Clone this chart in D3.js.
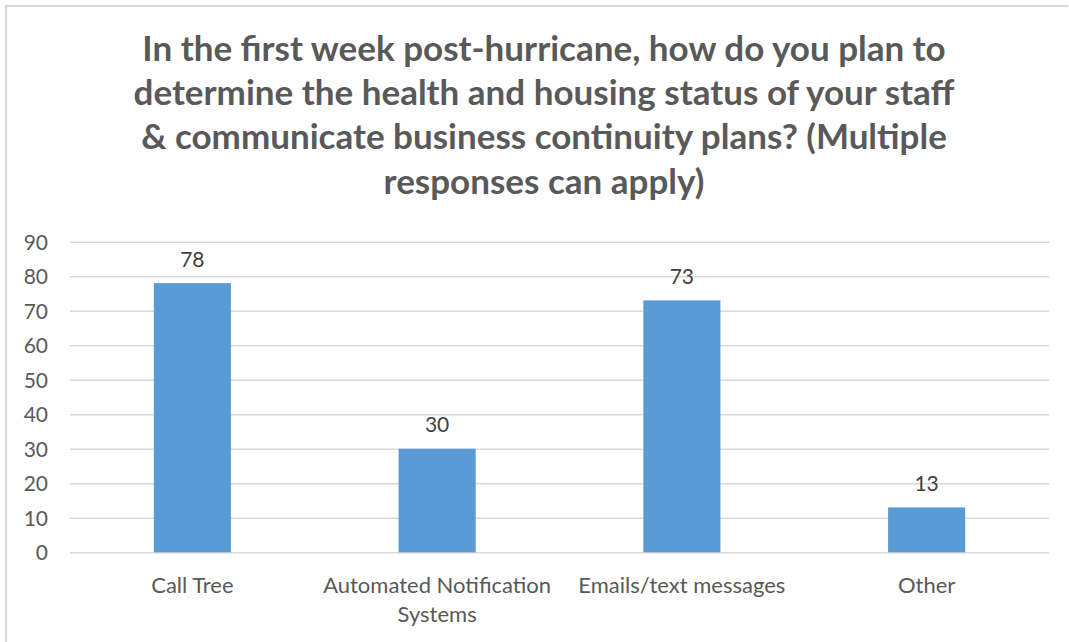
<!DOCTYPE html>
<html>
<head>
<meta charset="utf-8">
<script src="https://cdn.jsdelivr.net/npm/d3@7"></script>
<style>
  html, body { margin: 0; padding: 0; background: #fff; }
  svg { display: block; }
  text { font-family: Lato, "Open Sans", sans-serif; }
</style>
</head>
<body>
<svg id="chart" width="1069" height="642"></svg>
<script>
// Survey responses (multiple answers allowed)
const categories = [["Call Tree"], ["Automated Notification", "Systems"], ["Emails/text messages"], ["Other"]];
const values = [78, 30, 73, 13];
const yTicks = [0, 10, 20, 30, 40, 50, 60, 70, 80, 90];
const titleLines = [
  "In the first week post-hurricane, how do you plan to",
  "determine the health and housing status of your staff",
  "& communicate business continuity plans? (Multiple",
  "responses can apply)"
];

const W = 1069, H = 642;
const plot = { left: 70, right: 1049, top: 241.7, bottom: 552.3 };

const svg = d3.select("#chart");

// chart frame
svg.append("path")
  .attr("d", `M6,${H} L6,6 L1068,6`)
  .attr("fill", "none")
  .attr("stroke", "#d9d9d9")
  .attr("stroke-width", 2);

// title
const title = svg.append("g").attr("class", "title");
const titleY = [47, 91, 135, 180];
const tLines = title.selectAll("text").data(titleLines).join("text")
  .attr("x", 544)
  .attr("y", (d, i) => titleY[i])
  .attr("text-anchor", "middle")
  .attr("dominant-baseline", "central")
  .attr("font-weight", "bold")
  .attr("font-size", 30)
  .attr("fill", "#595959")
  .text(d => d);
// size the title so its widest line spans about 821px
const widest = d3.max(tLines.nodes(), n => n.getComputedTextLength());
tLines.attr("font-size", 30 * 821 / widest);

const x = d3.scaleBand()
  .domain(categories.map((d, i) => i))
  .range([plot.left, plot.right])
  .paddingInner(0.685)
  .paddingOuter(0.685 / 2);

const y = d3.scaleLinear()
  .domain([0, 90])
  .range([plot.bottom, plot.top]);

// gridlines + y labels
const yAxis = d3.axisLeft(y)
  .tickValues(yTicks)
  .tickSize(-(plot.right - plot.left))
  .tickPadding(22);
const yg = svg.append("g")
  .attr("transform", `translate(${plot.left},0)`)
  .call(yAxis);
yg.select(".domain").remove();
yg.selectAll(".tick line").attr("stroke", "#d9d9d9").attr("stroke-width", 1.5);
yg.selectAll(".tick text")
  .attr("font-family", "Lato, 'Open Sans', sans-serif")
  .attr("font-size", 21)
  .attr("fill", "#595959")
  .attr("dy", "0.35em");

// bars
svg.append("g").selectAll("rect").data(values).join("rect")
  .attr("x", (d, i) => x(i))
  .attr("width", x.bandwidth())
  .attr("y", d => y(d))
  .attr("height", d => y(0) - y(d))
  .attr("fill", "#5b9bd5");

// value labels
svg.append("g").selectAll("text").data(values).join("text")
  .attr("x", (d, i) => x(i) + x.bandwidth() / 2)
  .attr("y", d => y(d) - 25)
  .attr("text-anchor", "middle")
  .attr("dominant-baseline", "central")
  .attr("font-size", 21)
  .attr("fill", "#404040")
  .text(d => d);

// category labels
const cat = svg.append("g").selectAll("text").data(categories).join("text")
  .attr("x", (d, i) => x(i) + x.bandwidth() / 2)
  .attr("y", 584)
  .attr("text-anchor", "middle")
  .attr("dominant-baseline", "central")
  .attr("font-size", 22)
  .attr("fill", "#595959");
cat.selectAll("tspan").data(d => d).join("tspan")
  .attr("x", function () { return this.parentNode.getAttribute("x"); })
  .attr("dy", (d, i) => i === 0 ? 0 : 29)
  .text(d => d);
</script>
</body>
</html>
